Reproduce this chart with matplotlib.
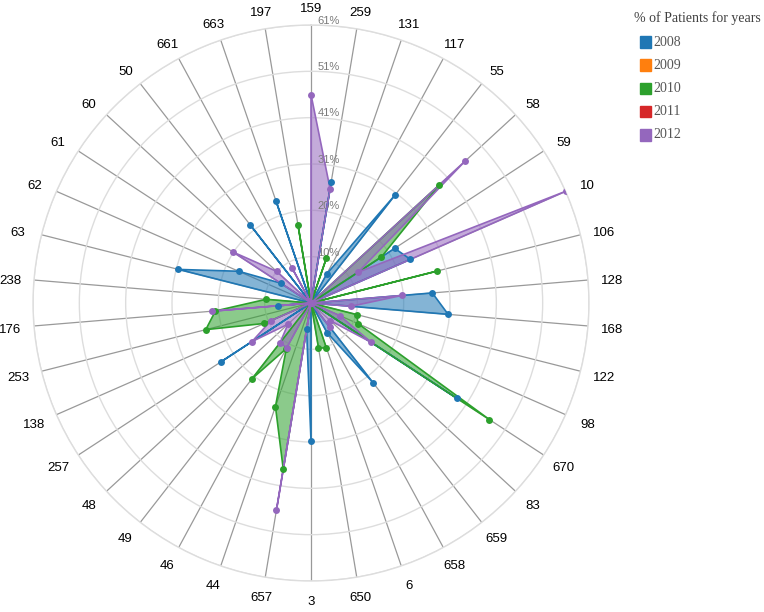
import numpy as np
import matplotlib
matplotlib.use("Agg")
import matplotlib.pyplot as plt
from matplotlib.patches import Rectangle

categories = ['159', '259', '131', '117', '55', '58', '59', '10', '106', '128', '168', '122',
              '98', '670', '83', '659', '658', '6', '650', '3', '657', '44', '46', '49', '48',
              '257', '138', '253', '176', '238', '63', '62', '61', '60', '50', '661', '663', '197']

years = ['2008', '2009', '2010', '2011', '2012']

v2008 = [0, 26.9, 0, 7.3, 30.2, 0, 22.0, 23.9, 0, 26.8, 30.3, 0,
         0, 38.3, 0, 22.2, 7.4, 0, 0, 30.4, 5.9, 0, 0, 0, 0,
         23.7, 0, 0, 7.3, 0, 30.1, 17.4, 8.0, 0, 21.8, 0, 23.8, 0]
v2009 = [0] * 38
v2010 = [0, 0, 10.4, 0, 0, 38.4, 18.5, 0, 28.6, 0, 0, 10.4,
         11.3, 46.9, 0, 0, 0, 10.5, 10.0, 0, 37.1, 24.1, 11.4, 21.1, 0,
         0, 11.2, 23.9, 21.1, 9.9, 0, 0, 0, 0, 0, 0, 0, 17.3]
v2011 = [0] * 38
v2012 = [45.9, 25.5, 0, 0, 0, 46.0, 12.4, 61.2, 0, 20.0, 8.8, 0,
         6.9, 15.8, 5.7, 6.7, 0, 0, 0, 0, 46.2, 0, 11.2, 11.1, 6.9,
         15.5, 9.6, 0, 21.8, 0, 0, 0, 20.5, 10.3, 0, 8.8, 0, 0]

series = [v2008, v2009, v2010, v2011, v2012]
colors = ['#1f77b4', '#ff7f0e', '#2ca02c', '#d62728', '#9467bd']

max_value = 61.2
levels = 6

W, H = 764, 612
fig = plt.figure(figsize=(W / 100, H / 100), dpi=100)
cx, cy, R = 311, 303, 278
ax = fig.add_axes([(cx - R) / W, (H - cy - R) / H, 2 * R / W, 2 * R / H], projection='polar')
ax.set_theta_zero_location('N')
ax.set_theta_direction(-1)
ax.set_ylim(0, max_value)

n = len(categories)
theta = np.arange(n) * 2 * np.pi / n

ring_vals = [max_value * (k + 1) / levels for k in range(levels)]
ax.set_yticks(ring_vals)
ax.set_yticklabels([])
ax.set_xticks(theta)
ax.set_xticklabels([])
ax.yaxis.grid(True, color='#dddddd', lw=1)
ax.xaxis.grid(True, color='#999999', lw=0.9)
ax.spines['polar'].set_color('#dddddd')
ax.spines['polar'].set_linewidth(1)
ax.set_axisbelow(True)
ax.set_facecolor('white')

for rv in ring_vals:
    ax.annotate(f"{round(rv)}%", xy=(0, rv), xytext=(4.5, 3), textcoords='offset points',
                ha='left', va='center', fontsize=8, color='#7a7a7a', family='Liberation Sans')

px2pt = 0.72
for t, lab in zip(theta, categories):
    dx = (302 - R) * np.sin(t) * px2pt
    dy = ((296.5 - R) * np.cos(t) - 2.5) * px2pt
    ax.annotate(lab, xy=(t, max_value), xytext=(dx, dy), textcoords='offset points',
                ha='center', va='center', fontsize=9.5, color='black',
                family='Liberation Sans', annotation_clip=False)

tc = np.append(theta, theta[0])
for vals, c in zip(series, colors):
    vc = np.append(vals, vals[0])
    ax.fill(tc, vc, color=c, alpha=0.55, lw=0, zorder=2)
    ax.plot(tc, vc, color=c, lw=1.2, zorder=3)
    ax.plot(theta, vals, 'o', ms=5, color=c, zorder=4, markeredgewidth=0)

# legend
fig.text(634 / W, 1 - 18 / H, '% of Patients for years', family='Liberation Serif',
         fontsize=10, color='#404040', ha='left', va='center')
for i, (y, c) in enumerate(zip(years, colors)):
    yc = 42 + i * 23.2
    fig.patches.append(Rectangle((639.5 / W, 1 - (yc + 5.7) / H), 11.4 / W, 11.4 / H,
                                 transform=fig.transFigure, color=c))
    fig.text(653 / W, 1 - yc / H, y, family='Liberation Serif', fontsize=10,
             color='#555555', ha='left', va='center')

fig.savefig('out.png', dpi=100)
